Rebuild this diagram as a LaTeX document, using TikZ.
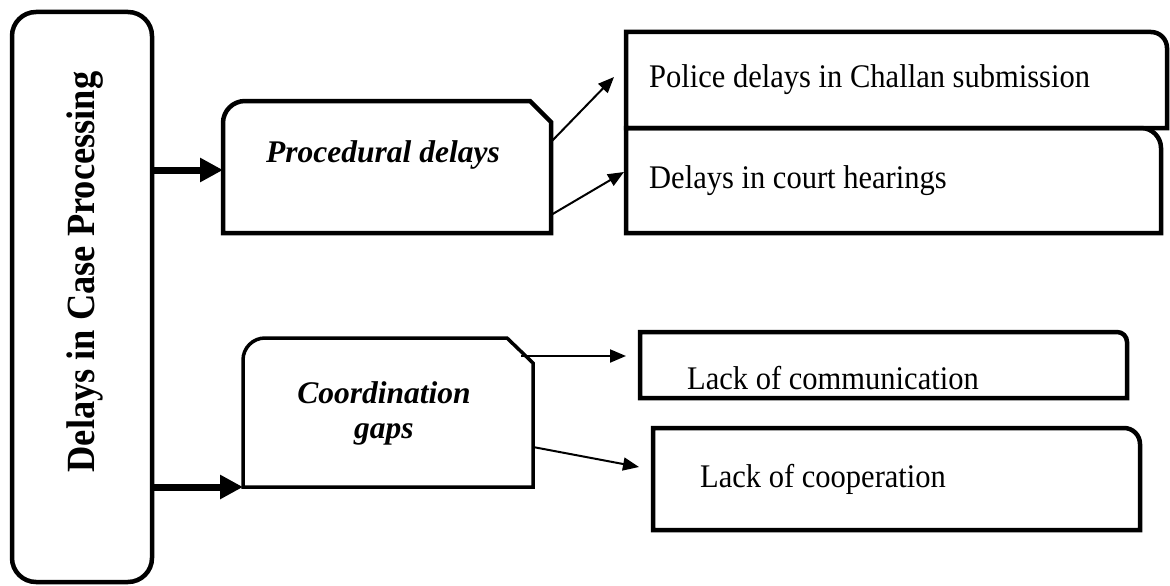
\documentclass[tikz,border=0pt]{standalone}
\usepackage{fontspec}
\setmainfont{Liberation Serif}
\newfontfamily\narrowserif[FakeStretch=0.925]{Liberation Serif}
\newfontfamily\titleserif[FakeStretch=0.91]{Liberation Serif}
\usetikzlibrary{arrows.meta,calc}

\begin{document}
\begin{tikzpicture}[x=1pt,y=-1pt,
  area/.style={draw=none,inner sep=0pt,outer sep=0pt},
  frame/.style={draw=black,line width=4.5pt},
  thinframe/.style={draw=black,line width=3.5pt},
  bigarrow/.style={draw=black,line width=7pt,-{Triangle[length=23pt,width=23pt]}},
  smallarrow/.style={draw=black,line width=2pt,-{Triangle[length=16pt,width=13pt]}},
  bodytext/.style={inner sep=0pt,font=\narrowserif\fontsize{33}{36}\selectfont},
  headtext/.style={inner sep=0pt,align=center,font=\bfseries\itshape\fontsize{31.5}{35}\selectfont},
  titletext/.style={inner sep=0pt,rotate=90,font=\titleserif\bfseries\fontsize{40}{44}\selectfont}]

\useasboundingbox[fill=white] (0,0) rectangle (1170,586);

% box areas
\node[area,minimum width=140pt,minimum height=570pt] (main) at (82,297) {};
\node[area,minimum width=328pt,minimum height=132pt] (proc) at (387,167) {};
\node[area,minimum width=290pt,minimum height=149pt] (coord) at (388,412.5) {};
\node[area,minimum width=541pt,minimum height=96pt] (police) at (896.5,80) {};
\node[area,minimum width=535pt,minimum height=105pt] (court) at (893.5,180.5) {};
\node[area,minimum width=487pt,minimum height=66pt] (comm) at (883.5,365) {};
\node[area,minimum width=487pt,minimum height=102pt] (coop) at (896.5,479) {};

% outlines
\draw[frame,rounded corners=24pt] (main.south west) rectangle (main.north east);

\draw[frame] (proc.south east) -- (proc.south west)
  -- ($(proc.north west)+(0,22)$) arc[start angle=180,end angle=270,radius=22]
  -- ($(proc.north east)+(-21,0)$) -- ($(proc.north east)+(0,21)$) -- cycle;

\draw[thinframe] (coord.south east) -- (coord.south west)
  -- ($(coord.north west)+(0,22)$) arc[start angle=180,end angle=270,radius=22]
  -- ($(coord.north east)+(-26,0)$) -- ($(coord.north east)+(0,25)$) -- cycle;

\draw[frame] (police.south west) -- (police.north west)
  -- ($(police.north east)+(-16,0)$) arc[start angle=270,end angle=360,radius=16]
  -- (police.south east) -- cycle;

\draw[frame] (court.south west) -- (court.north west)
  -- ($(court.north east)+(-20,0)$) arc[start angle=270,end angle=360,radius=20]
  -- (court.south east) -- cycle;

\draw[frame] (comm.south west) -- (comm.north west)
  -- ($(comm.north east)+(-10,0)$) arc[start angle=270,end angle=360,radius=10]
  -- (comm.south east) -- cycle;

\draw[frame] (coop.south west) -- (coop.north west)
  -- ($(coop.north east)+(-16,0)$) arc[start angle=270,end angle=360,radius=16]
  -- (coop.south east) -- cycle;

% texts
\node[titletext,anchor=base] (main-t) at (94,272) {Delays in Case Processing};
\node[headtext,anchor=base] (proc-t) at (383,162) {Procedural delays};
\node[headtext,anchor=center] (coord-t) at (384,413) {Coordination\\gaps};
\node[bodytext,anchor=base west] (police-t) at (649,88) {Police delays in Challan submission};
\node[bodytext,anchor=base west] (court-t) at (649,188) {Delays in court hearings};
\node[bodytext,anchor=base west] (comm-t) at (687,389) {Lack of communication};
\node[bodytext,anchor=base west] (coop-t) at (700,487) {Lack of cooperation};

% connectors
\coordinate (a1) at ($(proc.west)+(0,3)$);
\draw[bigarrow] (main.east |- a1) -- (a1);
\draw[bigarrow] (main.east |- coord.south west) -- (coord.south west);

\draw[smallarrow] ($(proc.east)+(0,-25)$) -- ($(police.west)+(-12,-3)$);
\draw[smallarrow] ($(proc.east)+(0,48)$) -- ($(court.west)+(-2,-8.5)$);
\draw[smallarrow] ($(coord.north east)+(-12,18)$) -- ($(comm.west)+(-14,-9)$);
\draw[smallarrow] ($(coord.east)+(0,34.5)$) -- ($(coop.west)+(-14,-12)$);

\end{tikzpicture}
\end{document}
